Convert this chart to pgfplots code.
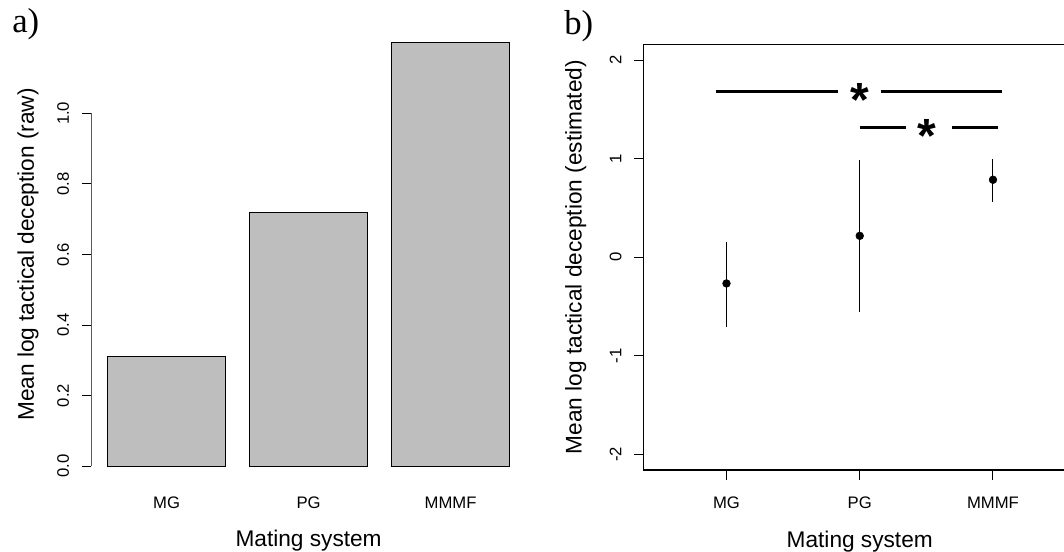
\documentclass[border=0pt]{standalone}
\usepackage{pgfplots}
\pgfplotsset{compat=1.18}
\usepackage{fontspec}
\setmainfont{Liberation Sans}
\newfontfamily\serifpanel{Liberation Serif}
\definecolor{bargray}{HTML}{BEBEBE}

\begin{document}
\begin{tikzpicture}
\pgfplotsset{
 common/.style={
  scale only axis,
  tick label style={font=\fontsize{12.5}{14}\selectfont},
  label style={font=\fontsize{17}{20}\selectfont},
  tick align=outside,
  major tick length=7.2pt,
  tick style={black, line width=0.75pt},
  yticklabel style={xshift=-14pt, rotate=90, anchor=center},
 }
}

% ---------- panel a ----------
\begin{axis}[common,
 at={(68.55pt,51.6pt)}, anchor=south west,
 width=325.8pt, height=343pt,
 xmin=0.064, xmax=3.736, ymin=-0.048, ymax=1.248,
 axis x line*=bottom, axis y line*=left,
 x axis line style={draw=none}, y axis line style={draw=none},
 xtick={0.7,1.9,3.1}, xticklabels={MG,PG,MMMF},
 major x tick style={draw=none},
 xticklabel style={anchor=center, yshift=-7.3pt},
 ytick={0,0.2,0.4,0.6,0.8,1.0}, yticklabels={0.0,0.2,0.4,0.6,0.8,1.0},
 xlabel={Mating system},
 ylabel={Mean log tactical deception (raw)},
 xlabel style={at={(axis description cs:0.5,-0.126)}, anchor=center},
 ylabel style={at={(axis description cs:-0.146,0.5)}, anchor=center},
]
\addplot[ybar, bar width=1, bar shift=0pt, fill=bargray, draw=black, line width=0.6pt]
 coordinates {(0.7,0.31) (1.9,0.72) (3.1,1.2)};
\draw[line width=0.75pt] (axis cs:0.064,0) -- (axis cs:0.064,1);
\end{axis}

% ---------- panel b ----------
\begin{axis}[common,
 at={(482.9pt,61.5pt)}, anchor=south west,
 width=323.8pt, height=319.3pt,
 xmin=0.38, xmax=3.62, ymin=-2.16, ymax=2.16,
 xtick={1,2,3}, xticklabels={MG,PG,MMMF},
 ytick={-2,-1,0,1,2}, yticklabels={-2,-1,0,1,2},
 xtick pos=bottom, ytick pos=left,
 axis line style={line width=0.8pt},
 xticklabel style={anchor=center, yshift=-17.6pt},
 xlabel={Mating system},
 ylabel={Mean log tactical deception (estimated)},
 xlabel style={at={(axis description cs:0.5,-0.169)}, anchor=center},
 ylabel style={at={(axis description cs:-0.158,0.5)}, anchor=center},
]
\addplot[black, only marks, mark=*, mark size=2.9pt,
 error bars/.cd, y dir=both, y explicit, error mark=none,
 error bar style={line width=0.75pt, black}]
 coordinates {
 (1,-0.267) += (0,0.422) -= (0,0.44)
 (2,0.216) += (0,0.774) -= (0,0.771)
 (3,0.785) += (0,0.215) -= (0,0.225)
 };
\addplot[black, line width=2.25pt, mark=none] coordinates {(0.925,1.685) (1.835,1.685)};
\addplot[black, line width=2.25pt, mark=none] coordinates {(2.16,1.685) (3.07,1.685)};
\addplot[black, line width=2.25pt, mark=none] coordinates {(2.0,1.32) (2.35,1.32)};
\addplot[black, line width=2.25pt, mark=none] coordinates {(2.69,1.32) (3.04,1.32)};
\node[anchor=base, inner sep=0pt, font=\bfseries\fontsize{36}{40}\selectfont, yshift=-18.8pt] at (axis cs:2,1.685) {*};
\node[anchor=base, inner sep=0pt, font=\bfseries\fontsize{36}{40}\selectfont, yshift=-18.8pt] at (axis cs:2.5,1.32) {*};
\end{axis}

\node[anchor=base west, inner sep=0pt, font=\serifpanel\fontsize{26}{30}\selectfont] at (9pt,389.25pt) {a)};
\node[anchor=base west, inner sep=0pt, font=\serifpanel\fontsize{26}{30}\selectfont] at (423pt,387.75pt) {b)};

\pgfresetboundingbox
\useasboundingbox (0,0) rectangle (798pt,414pt);
\end{tikzpicture}
\end{document}
